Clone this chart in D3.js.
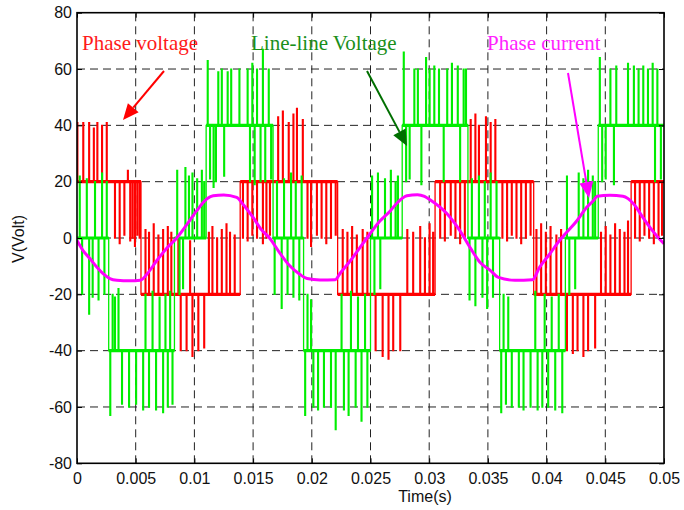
<!DOCTYPE html>
<html>
<head>
<meta charset="utf-8">
<script src="https://cdn.jsdelivr.net/npm/d3@7"></script>
<style>
  body { margin: 0; background: #fff; }
  svg { display: block; }
</style>
</head>
<body>
<script>
// axis ticks
var xTicks = [0, 0.005, 0.01, 0.015, 0.02, 0.025, 0.03, 0.035, 0.04, 0.045, 0.05];
var xTickLabels = ["0", "0.005", "0.01", "0.015", "0.02", "0.025", "0.03", "0.035", "0.04", "0.045", "0.05"];
var yTicks = [-80, -60, -40, -20, 0, 20, 40, 60, 80];
var yTickLabels = ["-80", "-60", "-40", "-20", "0", "20", "40", "60", "80"];

// phase voltage: base level from each time on, then PWM spikes [t, value]
var phaseLevels = [[0, 20], [0.00545, -20], [0.0139, 20], [0.0222, -20], [0.0305, 20], [0.0389, -20], [0.0472, 20]];
var phaseSpikes = [
  [0.0000, 41], [0.0005, 41], [0.0010, 41], [0.0014, 39], [0.0017, 41], [0.0021, 40], [0.0025, 41],
  [0.0032, 0], [0.0036, -2], [0.0040, 1], [0.0043, 24], [0.0045, -1], [0.0047, 0], [0.0049, -3], [0.0051, 1], [0.0053, 0],
  [0.0058, 3], [0.0061, 2], [0.0065, 5], [0.0069, 1], [0.0073, 3], [0.0077, 4], [0.0080, 2],
  [0.0086, 0], [0.0088, -40], [0.0093, -40], [0.0096, -1], [0.0098, -42], [0.0103, -40], [0.0108, -39],
  [0.0112, 2], [0.0115, 4], [0.0119, 0], [0.0123, 3], [0.0127, 5], [0.0130, 2], [0.0134, 1],
  [0.0141, 0], [0.0145, -1], [0.0149, 1], [0.0153, 0], [0.0158, -2], [0.0161, 0], [0.0164, 1],
  [0.0171, 43], [0.0175, 45], [0.0180, 41], [0.0184, 44], [0.0187, 46], [0.0192, 42],
  [0.0196, 0], [0.0199, -3], [0.0204, 1], [0.0208, 0], [0.0212, -2], [0.0216, 0], [0.0220, 1],
  [0.0226, 3], [0.0230, 2], [0.0234, 4], [0.0238, 1], [0.0243, 3], [0.0247, 2],
  [0.0254, -40], [0.0260, -42], [0.0265, -43], [0.0269, -40], [0.0275, -40],
  [0.0281, 3], [0.0286, 2], [0.0292, 4], [0.0296, 0], [0.0300, 5], [0.0303, 2],
  [0.0309, 0], [0.0313, -1], [0.0318, 1], [0.0322, 0], [0.0326, -2], [0.0330, 0],
  [0.0335, 42], [0.0339, 44], [0.0342, 40], [0.0348, 43], [0.0352, 41], [0.0356, 42],
  [0.0362, 0], [0.0366, -1], [0.0370, 1], [0.0374, 0], [0.0378, -2], [0.0382, 0], [0.0386, 1],
  [0.0391, 3], [0.0395, 5], [0.0399, 2], [0.0403, 4], [0.0408, 1], [0.0412, 3],
  [0.0417, -40], [0.0422, -41], [0.0426, -40], [0.0431, -42], [0.0435, -40], [0.0441, -39],
  [0.0446, 2], [0.0450, 4], [0.0454, 1], [0.0458, 5], [0.0462, 3], [0.0466, 2], [0.0469, 6],
  [0.0475, 0], [0.0479, -1], [0.0483, 1], [0.0487, 0], [0.0491, -2], [0.0495, 0], [0.0498, 1]
];

// line-line voltage
var lineLevels = [[0, 0], [0.0027, -40], [0.0083, 0], [0.011, 40], [0.0167, 0], [0.0193, -40], [0.025, 0], [0.0277, 40], [0.0333, 0], [0.036, -40], [0.0416, 0], [0.0444, 40]];
var lineSpikes = [
  [0.0002, 22], [0.0004, -20], [0.0008, 21], [0.0010, -27], [0.0013, -21], [0.0015, 20], [0.0018, -22], [0.0021, 23], [0.0023, -20], [0.0025, 20],
  [0.0028, -63], [0.0030, -20], [0.0032, -21], [0.0035, -18], [0.0038, -59], [0.0044, -60], [0.0050, -59], [0.0056, -61], [0.0058, -20], [0.0061, -60],
  [0.0064, -19], [0.0067, -61], [0.0070, -21], [0.0073, -62], [0.0075, -20], [0.0077, -60], [0.0079, -19], [0.0081, -59],
  [0.0085, 24], [0.0087, -20], [0.0090, -18], [0.0092, 25], [0.0095, 22], [0.0098, 23], [0.0102, 21], [0.0106, 24], [0.0108, 20],
  [0.0111, 63], [0.0113, 21], [0.0116, 18], [0.0118, 20], [0.0120, 59], [0.0123, 60], [0.0125, 22], [0.0128, 59], [0.0131, 60], [0.0138, 60],
  [0.0145, 60], [0.0147, 20], [0.0149, 62], [0.0151, 19], [0.0153, 60], [0.0156, 20], [0.0158, 67], [0.0160, 20], [0.0163, 60], [0.0165, 21],
  [0.0168, -20], [0.0170, 20], [0.0174, -25], [0.0176, 21], [0.0179, -20], [0.0182, 23], [0.0184, -21], [0.0186, 20], [0.0189, -22], [0.0191, 22],
  [0.0194, -63], [0.0196, -20], [0.0199, -22], [0.0201, -60], [0.0205, -61], [0.0210, -60], [0.0216, -60], [0.0220, -68], [0.0225, -20], [0.0227, -61],
  [0.0231, -63], [0.0233, -19], [0.0237, -60], [0.0239, -21], [0.0242, -65], [0.0245, -20], [0.0247, -60],
  [0.0251, 22], [0.0253, -20], [0.0256, 23], [0.0258, -18], [0.0262, 21], [0.0267, 24], [0.0271, 20], [0.0273, 22],
  [0.0278, 66], [0.0280, 20], [0.0283, 21], [0.0287, 60], [0.0290, 60], [0.0293, 19], [0.0297, 64], [0.0300, 60], [0.0304, 61], [0.0308, 60],
  [0.0312, 20], [0.0315, 60], [0.0319, 62], [0.0324, 61], [0.0326, 20], [0.0329, 60], [0.0331, 60],
  [0.0334, -22], [0.0336, 21], [0.0339, -24], [0.0342, 22], [0.0345, -21], [0.0347, 20], [0.0349, -25], [0.0352, 23], [0.0354, -21], [0.0357, 20],
  [0.0361, -62], [0.0363, -20], [0.0365, -59], [0.0367, -21], [0.0370, -60], [0.0376, -60], [0.0380, -61], [0.0386, -60], [0.0390, -19], [0.0392, -61],
  [0.0396, -60], [0.0398, -20], [0.0401, -60], [0.0404, -21], [0.0407, -61], [0.0410, -20], [0.0413, -62],
  [0.0417, 22], [0.0419, -20], [0.0424, -18], [0.0427, 23], [0.0431, 21], [0.0435, 24], [0.0439, 22], [0.0441, 20],
  [0.0445, 64], [0.0447, 20], [0.0450, 21], [0.0454, 60], [0.0457, 19], [0.0459, 61], [0.0469, 62], [0.0474, 61], [0.0478, 60], [0.0482, 61],
  [0.0486, 60], [0.0490, 62], [0.0492, 20], [0.0494, 60], [0.0497, 21]
];

// phase current [t, A]
var currentPts = [
  [0, -0.9], [0.0005, -4.4], [0.0011, -7.3], [0.0017, -10.4], [0.0022, -12.6], [0.0028, -14.4], [0.0034, -15], [0.0045, -15.2], [0.0054, -15],
  [0.0060, -12.6], [0.0068, -8], [0.0077, -3.4], [0.0085, 0], [0.0094, 5], [0.0102, 9.7], [0.0111, 14], [0.0116, 15], [0.0125, 15.3], [0.0136, 14.4],
  [0.0141, 12.2], [0.0150, 7.3], [0.0157, 3], [0.0164, 0], [0.0173, -5.5], [0.0181, -9.8], [0.0190, -13], [0.0196, -14.4], [0.0207, -14.9], [0.0220, -14.8],
  [0.0224, -12.6], [0.0233, -8], [0.0241, -3.4], [0.0247, 0], [0.0258, 6], [0.0267, 9.7], [0.0273, 12.6], [0.0281, 15], [0.0290, 15.4], [0.0296, 14.8],
  [0.0301, 13.5], [0.0315, 8.7], [0.0326, 2.7], [0.0335, -3.5], [0.0343, -8.5], [0.0352, -11.5], [0.0359, -14], [0.0373, -15], [0.0388, -14.8],
  [0.0394, -10.4], [0.0403, -5.5], [0.0411, -0.9], [0.0416, 1.5], [0.0426, 6.2], [0.0434, 10.8], [0.0440, 13.3], [0.0443, 14.8], [0.0454, 15.2],
  [0.0465, 14.8], [0.0474, 12.2], [0.0482, 7.3], [0.0490, 2.7], [0.0499, -1.6], [0.05, -2]
];

var tEnd = 0.05;
var pulse = 0.00007;

var svg = d3.select("body").append("svg").attr("width", 684).attr("height", 510),
    plotL = 77, plotR = 664, plotT = 12.7, plotB = 463.3;

var x = d3.scaleLinear().domain([0, tEnd]).range([plotL, plotR]);
var y = d3.scaleLinear().domain([-80, 80]).range([plotB, plotT]);

svg.append("defs").append("clipPath").attr("id", "plot")
  .append("rect").attr("x", plotL).attr("y", plotT).attr("width", plotR - plotL).attr("height", plotB - plotT);

// grid
var grid = svg.append("g").attr("stroke", "#222").attr("stroke-width", 1).attr("stroke-dasharray", "8,5");
grid.selectAll(".gx").data(xTicks.slice(1, -1)).enter().append("line")
  .attr("x1", function (d) { return x(d); }).attr("x2", function (d) { return x(d); })
  .attr("y1", plotB).attr("y2", plotT);
grid.selectAll(".gy").data(yTicks.slice(1, -1)).enter().append("line")
  .attr("y1", function (d) { return y(d); }).attr("y2", function (d) { return y(d); })
  .attr("x1", plotL).attr("x2", plotR);

function pulseTrain(levels, spikes) {
  var pts = [];
  levels.forEach(function (seg, k) {
    var t0 = seg[0], base = seg[1];
    var t1 = k + 1 < levels.length ? levels[k + 1][0] : tEnd;
    pts.push([t0, base]);
    spikes.filter(function (s) { return s[0] >= t0 && s[0] < t1; })
      .sort(function (a, b) { return a[0] - b[0]; })
      .forEach(function (s) {
        pts.push([s[0], base], [s[0], s[1]], [s[0] + pulse, s[1]], [s[0] + pulse, base]);
      });
    pts.push([t1, base]);
  });
  return pts;
}

var line = d3.line().x(function (d) { return x(d[0]); }).y(function (d) { return y(d[1]); });
var traces = svg.append("g").attr("clip-path", "url(#plot)");

function drawTrace(levels, spikes, color) {
  // fuzzy base level band
  traces.append("g").selectAll("line").data(levels).enter().append("line")
    .attr("x1", function (d) { return x(d[0]); })
    .attr("x2", function (d, k) { return x(k + 1 < levels.length ? levels[k + 1][0] : tEnd); })
    .attr("y1", function (d) { return y(d[1]); })
    .attr("y2", function (d) { return y(d[1]); })
    .attr("stroke", color).attr("stroke-width", 3.2);
  traces.append("path").datum(pulseTrain(levels, spikes))
    .attr("d", line).attr("fill", "none").attr("stroke", color).attr("stroke-width", 1.3);
}

drawTrace(phaseLevels, phaseSpikes, "#ff0000");
drawTrace(lineLevels, lineSpikes, "#00ee00");

traces.append("path").datum(currentPts)
  .attr("d", d3.line().curve(d3.curveMonotoneX).x(function (d) { return x(d[0]); }).y(function (d) { return y(d[1]); }))
  .attr("fill", "none").attr("stroke", "#ff00ff").attr("stroke-width", 3);

// axes
var axes = svg.append("g");
axes.append("g").attr("transform", "translate(0," + plotB + ")")
  .call(d3.axisBottom(x).tickValues(xTicks).tickFormat(function (d, i) { return xTickLabels[i]; }).tickSize(-5).tickPadding(9));
axes.append("g").attr("transform", "translate(" + plotL + ",0)")
  .call(d3.axisLeft(y).tickValues(yTicks).tickFormat(function (d, i) { return yTickLabels[i]; }).tickSize(-5).tickPadding(5));
axes.append("g").attr("transform", "translate(0," + plotT + ")")
  .call(d3.axisTop(x).tickValues(xTicks).tickFormat("").tickSize(-5));
axes.append("g").attr("transform", "translate(" + plotR + ",0)")
  .call(d3.axisRight(y).tickValues(yTicks).tickFormat("").tickSize(-5));
axes.selectAll(".domain").remove();
axes.selectAll(".tick line").attr("stroke", "#000");
axes.selectAll(".tick text").attr("font-size", 16).attr("fill", "#111").attr("font-family", "'Liberation Sans', Arial, sans-serif");

svg.append("rect").attr("x", plotL).attr("y", plotT).attr("width", plotR - plotL).attr("height", plotB - plotT)
  .attr("fill", "none").attr("stroke", "#000").attr("stroke-width", 1.6);

svg.append("text").attr("x", 425).attr("y", 502).attr("text-anchor", "middle")
  .attr("font-family", "'Liberation Sans', Arial, sans-serif").attr("font-size", 16).attr("fill", "#111")
  .text("Time(s)");
svg.append("text").attr("transform", "translate(24,239) rotate(-90)").attr("text-anchor", "middle")
  .attr("font-family", "'Liberation Sans', Arial, sans-serif").attr("font-size", 16).attr("fill", "#111")
  .text("V(Volt)");

// annotations
function arrow(x1, y1, x2, y2, color) {
  var a = Math.atan2(y2 - y1, x2 - x1), len = 16, half = 7;
  var bx = x2 - len * Math.cos(a), by = y2 - len * Math.sin(a);
  svg.append("line").attr("x1", x1).attr("y1", y1).attr("x2", bx).attr("y2", by)
    .attr("stroke", color).attr("stroke-width", 2);
  svg.append("path")
    .attr("d", "M" + x2 + "," + y2 +
      "L" + (bx + half * Math.sin(a)) + "," + (by - half * Math.cos(a)) +
      "L" + (bx - half * Math.sin(a)) + "," + (by + half * Math.cos(a)) + "Z")
    .attr("fill", color);
}

var notes = svg.append("g").attr("font-family", "'Liberation Serif', 'Times New Roman', serif").attr("font-size", 21);
notes.append("text").attr("x", 82).attr("y", 50).attr("fill", "#ff1a1a").text("Phase voltage");
notes.append("text").attr("x", 251).attr("y", 50).attr("fill", "#1a8f1a").text("Line-line Voltage");
notes.append("text").attr("x", 487).attr("y", 50).attr("fill", "#ff22ff").text("Phase current");

arrow(164, 71, 123, 120, "#ff0000");
arrow(367, 71, 407, 146, "#006f00");
arrow(568, 73, 589, 198, "#ff00ff");
</script>
</body>
</html>
